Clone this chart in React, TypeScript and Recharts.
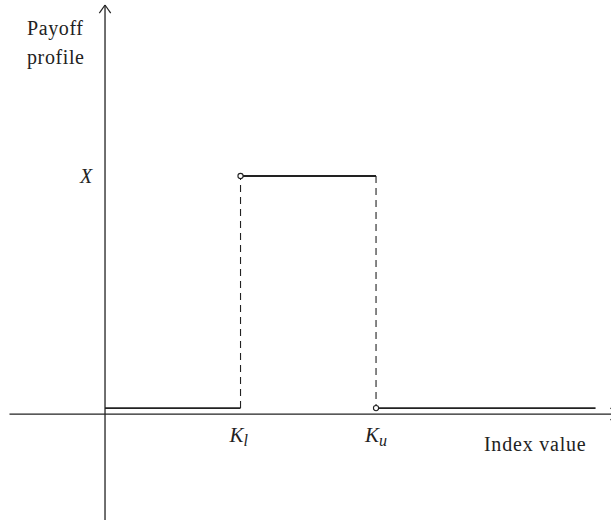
import {
  LineChart,
  Line,
  XAxis,
  YAxis,
  ReferenceLine,
  ReferenceDot,
} from "recharts";

// index value axis: 0 = origin, K_l = 1, K_u = 2
const strikes = [1, 2];
const strikeNames = [
  ["K", "l"],
  ["K", "u"],
];
// payoff levels: floor just above zero, cap X
const payoffLevels = [0.025, 1];
const levelName = "X";
const lineEnd = 3.62;
const indexDomain = [-0.775, 3.734];
const payoffDomain = [-0.445, 1.739];
const yTitle = ["Payoff", "profile"];
const xTitle = "Index value";

const ink = "#222";
const font = "'Liberation Serif', 'DejaVu Serif', serif";

const [kl, ku] = strikes;
const [floor, cap] = payoffLevels;

const leftFlat = [
  { x: 0, y: floor },
  { x: kl, y: floor },
];
const topFlat = [
  { x: kl, y: cap },
  { x: ku, y: cap },
];
const rightFlat = [
  { x: ku, y: floor },
  { x: lineEnd, y: floor },
];
const leftJump = [
  { x: kl, y: floor },
  { x: kl, y: cap },
];
const rightJump = [
  { x: ku, y: cap },
  { x: ku, y: floor },
];

const yTop = 1.718;
// arrow tip of the x axis sits just past the right edge
const xRight = 3.79;

const solid = { stroke: ink, strokeWidth: 1.9 };
const dashed = { stroke: ink, strokeWidth: 1.1, strokeDasharray: "7 5" };

export default function App() {
  return (
    <div style={{ position: "absolute", left: 0, top: 0 }}>
      <LineChart
        width={611}
        height={520}
        margin={{ top: 0, right: 0, left: 0, bottom: 0 }}
      >
        <XAxis
          type="number"
          dataKey="x"
          domain={indexDomain}
          allowDataOverflow
          hide
        />
        <YAxis type="number" domain={payoffDomain} allowDataOverflow hide />

        {/* axes with arrows */}
        <ReferenceLine
          segment={[
            { x: indexDomain[0] + 0.07, y: 0 },
            { x: xRight, y: 0 },
          ]}
          stroke={ink}
          strokeWidth={1.3}
          ifOverflow="visible"
        />
        <ReferenceLine
          segment={[
            { x: xRight - 0.06, y: 0.025 },
            { x: xRight, y: 0 },
          ]}
          stroke={ink}
          strokeWidth={1.2}
          ifOverflow="visible"
        />
        <ReferenceLine
          segment={[
            { x: xRight - 0.06, y: -0.025 },
            { x: xRight, y: 0 },
          ]}
          stroke={ink}
          strokeWidth={1.2}
          ifOverflow="visible"
        />
        <ReferenceLine
          segment={[
            { x: 0, y: payoffDomain[0] },
            { x: 0, y: yTop },
          ]}
          stroke={ink}
          strokeWidth={1.3}
          ifOverflow="visible"
        />
        <ReferenceLine
          segment={[
            { x: -0.042, y: yTop - 0.034 },
            { x: 0, y: yTop },
          ]}
          stroke={ink}
          strokeWidth={1.2}
          ifOverflow="visible"
        />
        <ReferenceLine
          segment={[
            { x: 0.042, y: yTop - 0.034 },
            { x: 0, y: yTop },
          ]}
          stroke={ink}
          strokeWidth={1.2}
          ifOverflow="visible"
        />

        {/* payoff profile */}
        {[leftJump, rightJump].map((d, i) => (
          <Line
            key={"j" + i}
            data={d}
            dataKey="y"
            type="linear"
            {...dashed}
            dot={false}
            activeDot={false}
            legendType="none"
            isAnimationActive={false}
          />
        ))}
        {[leftFlat, topFlat, rightFlat].map((d, i) => (
          <Line
            key={"f" + i}
            data={d}
            dataKey="y"
            type="linear"
            {...solid}
            dot={false}
            activeDot={false}
            legendType="none"
            isAnimationActive={false}
          />
        ))}
        <ReferenceDot
          x={kl}
          y={cap}
          r={2.6}
          fill="#fff"
          stroke={ink}
          strokeWidth={1.1}
        />
        <ReferenceDot
          x={ku}
          y={floor}
          r={2.6}
          fill="#fff"
          stroke={ink}
          strokeWidth={1.1}
        />

        {/* texts */}
        <ReferenceDot
          x={0}
          y={cap}
          r={0}
          shape={(p: any) => (
            <text
              x={p.cx - 19}
              y={p.cy + 7}
              textAnchor="middle"
              fontFamily={font}
              fontStyle="italic"
              fontSize={20}
              fill={ink}
            >
              {levelName}
            </text>
          )}
        />
        {strikes.map((k, i) => (
          <ReferenceDot
            key={k}
            x={k}
            y={0}
            r={0}
            ifOverflow="visible"
            shape={(p: any) => (
              <text
                x={p.cx - 11}
                y={p.cy + 28}
                fontFamily={font}
                fontStyle="italic"
                fontSize={21}
                fill={ink}
              >
                {strikeNames[i][0]}
                <tspan fontSize={16} dy={4}>
                  {strikeNames[i][1]}
                </tspan>
              </text>
            )}
          />
        ))}
        <ReferenceDot
          x={0}
          y={yTop}
          r={0}
          ifOverflow="visible"
          shape={(p: any) => (
            <text
              x={p.cx - 78}
              y={p.cy + 30}
              fontFamily={font}
              fontSize={20}
              letterSpacing={0.6}
              fill={ink}
            >
              <tspan x={p.cx - 78}>{yTitle[0]}</tspan>
              <tspan x={p.cx - 78} dy={29}>
                {yTitle[1]}
              </tspan>
            </text>
          )}
        />
        <ReferenceDot
          x={lineEnd}
          y={0}
          r={0}
          ifOverflow="visible"
          shape={(p: any) => (
            <text
              x={p.cx - 9}
              y={p.cy + 37}
              textAnchor="end"
              fontFamily={font}
              fontSize={20}
              letterSpacing={0.8}
              fill={ink}
            >
              {xTitle}
            </text>
          )}
        />
      </LineChart>
    </div>
  );
}
